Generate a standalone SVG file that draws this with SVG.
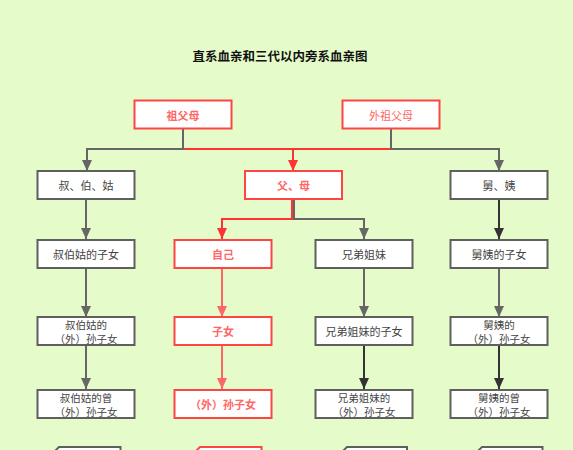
<svg xmlns="http://www.w3.org/2000/svg" width="573" height="450" viewBox="0 0 573 450">
<defs>
<style>
.g rect,.g path.b{fill:#fff;stroke:#5f5f5f;stroke-width:2}
.r rect,.r path.b{fill:#fff;stroke:#ff4444;stroke-width:2}
text{font-family:"Noto Sans CJK SC","Noto Sans",sans-serif;font-size:11px;text-anchor:middle;dominant-baseline:central}
text.t2{font-size:10.5px}
.g text{fill:#444}
.r text{fill:#ff6666;font-weight:bold}
.title{font-size:12.5px;font-weight:bold;fill:#111}
.c{fill:none;stroke-width:2}
.cg{stroke:#666}
.cd{stroke:#333}
.cr{stroke:#ff3333}
.cl{stroke:#ff6666}
</style>
<marker id="ag" markerWidth="10" markerHeight="12" refX="5" refY="11" orient="0" markerUnits="userSpaceOnUse"><path d="M0,0 L10,0 L5,11 Z" fill="#666"/></marker>
<marker id="ad" markerWidth="10" markerHeight="12" refX="5" refY="11" orient="0" markerUnits="userSpaceOnUse"><path d="M0,0 L10,0 L5,11 Z" fill="#333"/></marker>
<marker id="ar" markerWidth="10" markerHeight="12" refX="5" refY="11" orient="0" markerUnits="userSpaceOnUse"><path d="M0,0 L10,0 L5,11 Z" fill="#ff3333"/></marker>
<marker id="al" markerWidth="10" markerHeight="12" refX="5" refY="11" orient="0" markerUnits="userSpaceOnUse"><path d="M0,0 L10,0 L5,11 Z" fill="#ff6666"/></marker>
</defs>
<rect width="573" height="450" fill="#e5fbca"/>
<text class="title" x="280" y="55">直系血亲和三代以内旁系血亲图</text>
<g id="connectors">
<path class="c cg" d="M183,129 V149 H87 V171" marker-end="url(#ag)"/>
<path class="c cg" d="M391,129 V149 H499 V171" marker-end="url(#ag)"/>
<path class="c cr" d="M184,149 H390"/>
<path class="c cr" d="M293,149 V171" marker-end="url(#ar)"/>
<path class="c cg" d="M294,199 V219 H364 V239" marker-end="url(#ag)"/>
<path class="c cr" d="M292,199 V219 H222 V239" marker-end="url(#ar)"/>
<path class="c cg" d="M86,199 V239" marker-end="url(#ag)"/>
<path class="c cg" d="M86,268 V317" marker-end="url(#ag)"/>
<path class="c cg" d="M86,345 V389" marker-end="url(#ag)"/>
<path class="c cl" d="M222,268 V317" marker-end="url(#al)"/>
<path class="c cl" d="M222,345 V389" marker-end="url(#al)"/>
<path class="c cg" d="M364,268 V317" marker-end="url(#ag)"/>
<path class="c cd" d="M364,345 V389" marker-end="url(#ad)"/>
<path class="c cd" d="M499,199 V239" marker-end="url(#ad)"/>
<path class="c cg" d="M499,268 V317" marker-end="url(#ag)"/>
<path class="c cd" d="M499,345 V389" marker-end="url(#ad)"/>
</g>
<g id="n-zufumu" class="r"><rect x="134.5" y="100.5" width="97" height="28"/><text x="183" y="114.5">祖父母</text></g>
<g id="n-waizufumu" class="r"><rect x="342.5" y="100.5" width="97" height="28"/><text x="391" y="114.5" style="font-weight:normal">外祖父母</text></g>
<g id="n-shubogu" class="g"><rect x="37.5" y="171" width="97" height="28"/><text x="86" y="185">叔、伯、姑</text></g>
<g id="n-fumu" class="r"><rect x="245" y="171" width="97" height="28"/><text x="293.5" y="185">父、母</text></g>
<g id="n-jiuyi" class="g"><rect x="450.5" y="171" width="97" height="28"/><text x="499" y="185">舅、姨</text></g>
<g id="n-sbg-zn" class="g"><rect x="37.5" y="240" width="97" height="28"/><text x="86" y="254">叔伯姑的子女</text></g>
<g id="n-ziji" class="r"><rect x="174.5" y="240" width="97" height="28"/><text x="223" y="254">自己</text></g>
<g id="n-xdjm" class="g"><rect x="315.5" y="240" width="97" height="28"/><text x="364" y="254">兄弟姐妹</text></g>
<g id="n-jy-zn" class="g"><rect x="450.5" y="240" width="97" height="28"/><text x="499" y="254">舅姨的子女</text></g>
<g id="n-sbg-szn" class="g"><rect x="37.5" y="317" width="97" height="28"/><text class="t2" x="86" y="324">叔伯姑的</text><text class="t2" x="86" y="338">（外）孙子女</text></g>
<g id="n-zinv" class="r"><rect x="174.5" y="317" width="97" height="28"/><text x="223" y="331">子女</text></g>
<g id="n-xdjm-zn" class="g"><rect x="315.5" y="317" width="97" height="28"/><text x="364" y="331">兄弟姐妹的子女</text></g>
<g id="n-jy-szn" class="g"><rect x="450.5" y="317" width="97" height="28"/><text class="t2" x="499" y="324">舅姨的</text><text class="t2" x="499" y="338">（外）孙子女</text></g>
<g id="n-sbg-zszn" class="g"><rect x="37.5" y="390" width="97" height="28"/><text class="t2" x="86" y="397">叔伯姑的曾</text><text class="t2" x="86" y="411">（外）孙子女</text></g>
<g id="n-sunzinv" class="r"><rect x="174.5" y="390" width="97" height="28"/><text x="223" y="404">（外）孙子女</text></g>
<g id="n-xdjm-szn" class="g"><rect x="315.5" y="390" width="97" height="28"/><text class="t2" x="364" y="397">兄弟姐妹的</text><text class="t2" x="364" y="411">（外）孙子女</text></g>
<g id="n-jy-zszn" class="g"><rect x="450.5" y="390" width="97" height="28"/><text class="t2" x="499" y="397">舅姨的曾</text><text class="t2" x="499" y="411">（外）孙子女</text></g>
<g id="n-b1" class="g"><path class="b" d="M59,447 H120.5 V460 H54 V452 Z"/></g>
<g id="n-b2" class="r"><path class="b" d="M200,447 H261.5 V460 H195 V452 Z"/></g>
<g id="n-b3" class="g"><path class="b" d="M347,447 H407 V460 H342 V452 Z"/></g>
<g id="n-b4" class="g"><path class="b" d="M482,447 H542.5 V460 H477 V452 Z"/></g>
</svg>
